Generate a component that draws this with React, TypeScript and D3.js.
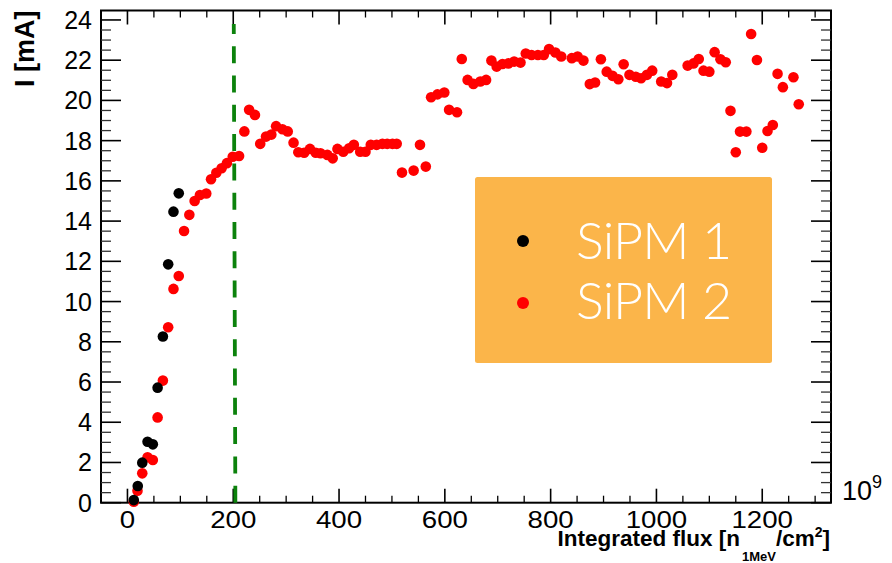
import React from "react";
import * as d3 from "d3";

// ---- data ----
const sipm1Flux = [12, 19.5, 28, 38, 48, 57, 67, 77, 87, 97];
const sipm1Current = [0.13, 0.83, 1.99, 3.03, 2.9, 5.72, 8.26, 11.85, 14.47, 15.38];

const sipm2Flux = [
  12, 19, 28, 38, 48, 57, 67, 77, 87, 97, 107, 117, 127, 137, 149, 158, 168, 178, 188, 199,
  211, 221, 230, 241, 251, 262, 272, 281, 293, 303, 314, 323, 334, 345, 356, 365, 378, 388, 397, 408,
  419, 428, 440, 450, 460, 471, 482, 491, 501, 509, 519, 541, 553, 564, 574, 586, 599, 608, 623, 632,
  643, 654, 667, 678, 688, 698, 709, 720, 731, 743, 753, 764, 776, 787, 797, 809, 820, 840, 851, 862,
  874, 884, 895, 906, 917, 928, 938, 949, 961, 971, 982, 992, 1009, 1020, 1030, 1059, 1070, 1080, 1089, 1100,
  1110, 1121, 1131, 1140, 1150, 1158, 1170, 1179, 1190, 1200, 1210, 1220, 1229, 1239, 1259, 1269,
];
const sipm2Current = [
  0.05, 0.6, 1.46, 2.26, 2.12, 4.24, 6.07, 8.72, 10.63, 11.27, 13.51, 14.31, 15.0, 15.3, 15.37, 16.08, 16.4, 16.63, 16.88, 17.2,
  17.24, 18.46, 19.53, 19.28, 17.84, 18.2, 18.3, 18.72, 18.57, 18.46, 17.9, 17.42, 17.4, 17.59, 17.4, 17.37, 17.29, 17.12, 17.59, 17.45,
  17.62, 17.79, 17.45, 17.45, 17.79, 17.79, 17.84, 17.84, 17.84, 17.84, 16.41, 16.51, 17.79, 16.71, 20.16, 20.3, 20.39, 19.53, 19.41, 22.06,
  21.02, 20.82, 20.94, 21.02, 21.98, 21.68, 21.81, 21.84, 21.93, 21.88, 22.33, 22.26, 22.26, 22.26, 22.55, 22.38, 22.18, 22.1, 22.18, 21.98,
  20.81, 20.89, 22.05, 21.43, 21.22, 21.05, 21.8, 21.27, 21.18, 21.1, 21.27, 21.48, 20.94, 20.86, 21.27, 21.73, 21.84, 22.06, 21.48, 21.43,
  22.4, 22.05, 21.9, 19.48, 17.42, 18.45, 18.45, 23.3, 22.01, 17.65, 18.48, 18.78, 21.32, 20.66, 21.15, 19.81,
];

const cutLineFlux = [204, 201];
const cutLineCurrent = [0, 23.8];

const xTickValues = [0, 200, 400, 600, 800, 1000, 1200];
const yTickValues = [0, 2, 4, 6, 8, 10, 12, 14, 16, 18, 20, 22, 24];
const legendLabels = ["SiPM 1", "SiPM 2"];
const seriesColors = ["#000000", "#ff0000"];

export default function App() {
  const W = 892;
  const H = 563;
  const L = 101, R = 831, T = 10.5, B = 502.7;

  const x = d3.scaleLinear().domain([-50, 1330]).range([L, R]);
  const y = d3.scaleLinear().domain([0, 24.47]).range([B, T]);

  const xMinor = d3.range(0, 1301, 50).filter((v) => v % 200 !== 0);
  const yMinor = d3.range(0, 24.01, 0.5).filter((v) => v % 2 !== 0);

  const r = 5.3;
  const tickFont = "'Liberation Sans', Arial, Helvetica, sans-serif";

  const cutPath = d3.line<number>()
    .x((_, i) => x(cutLineFlux[i]))
    .y((_, i) => y(cutLineCurrent[i]))(cutLineFlux.map((_, i) => i)) as string;

  return (
    <svg
      width={W}
      height={H}
      viewBox={`0 0 ${W} ${H}`}
      style={{ position: "absolute", left: 0, top: 0, display: "block", background: "#fff" }}
    >
      <rect x={0} y={0} width={W} height={H} fill="#fff" />

      {/* frame */}
      <rect x={L} y={T} width={R - L} height={B - T} fill="none" stroke="#000" strokeWidth={2} />

      {/* x ticks bottom & top */}
      {xTickValues.map((v) => (
        <g key={"xm" + v}>
          <line x1={x(v)} x2={x(v)} y1={B} y2={B - 14} stroke="#000" strokeWidth={1.6} />
          <line x1={x(v)} x2={x(v)} y1={T} y2={T + 14} stroke="#000" strokeWidth={1.6} />
        </g>
      ))}
      {xMinor.map((v) => (
        <g key={"xn" + v}>
          <line x1={x(v)} x2={x(v)} y1={B} y2={B - 7} stroke="#000" strokeWidth={1.3} />
          <line x1={x(v)} x2={x(v)} y1={T} y2={T + 7} stroke="#000" strokeWidth={1.3} />
        </g>
      ))}

      {/* y ticks left & right */}
      {yTickValues.map((v) => (
        <g key={"ym" + v}>
          <line x1={L} x2={L + 20} y1={y(v)} y2={y(v)} stroke="#000" strokeWidth={1.6} />
          <line x1={R} x2={R - 20} y1={y(v)} y2={y(v)} stroke="#000" strokeWidth={1.6} />
        </g>
      ))}
      {yMinor.map((v) => (
        <g key={"yn" + v}>
          <line x1={L} x2={L + 10} y1={y(v)} y2={y(v)} stroke="#333" strokeWidth={1.3} />
          <line x1={R} x2={R - 10} y1={y(v)} y2={y(v)} stroke="#333" strokeWidth={1.3} />
        </g>
      ))}

      {/* tick labels */}
      {yTickValues.map((v) => (
        <text key={"yl" + v} x={92} y={y(v) + 9} textAnchor="end" fontFamily={tickFont} fontSize={25} fill="#000">
          {v}
        </text>
      ))}
      {xTickValues.map((v) => (
        <text
          key={"xl" + v}
          transform={`translate(${x(v)},${527.5}) scale(1.13,1)`}
          textAnchor="middle"
          fontFamily={tickFont}
          fontSize={24.5}
          fill="#000"
        >
          {v}
        </text>
      ))}

      {/* exponent */}
      <text x={842} y={500} fontFamily={tickFont} fontSize={27} fill="#000">
        10
        <tspan fontSize={18} dy={-12}>9</tspan>
      </text>

      {/* axis titles */}
      <text
        transform={`translate(33.5,${T}) rotate(-90)`}
        textAnchor="end"
        fontFamily={tickFont}
        fontWeight="bold"
        fontSize={27}
        fill="#000"
      >
        I [mA]
      </text>
      <text x={830} y={546} textAnchor="end" fontFamily={tickFont} fontWeight="bold" fontSize={22.5} fill="#000">
        Integrated flux [n
        <tspan fontSize={13} dx={2} dy={15}>1MeV</tspan>
        <tspan fontSize={22.5} dy={-15}>/cm</tspan>
        <tspan fontSize={14} dy={-9}>2</tspan>
        <tspan fontSize={22.5} dy={9}>]</tspan>
      </text>

      {/* cut line */}
      <path d={cutPath} fill="none" stroke="#0c820c" strokeWidth={3.8} strokeDasharray="17 12.3" />

      {/* data */}
      {sipm2Flux.map((v, i) => (
        <circle key={"s2" + i} cx={x(v)} cy={y(sipm2Current[i])} r={r} fill={seriesColors[1]} />
      ))}
      {sipm1Flux.map((v, i) => (
        <circle key={"s1" + i} cx={x(v)} cy={y(sipm1Current[i])} r={r} fill={seriesColors[0]} />
      ))}

      {/* legend */}
      <rect x={475} y={177} width={297} height={186} rx={2.5} fill="#fbb54a" />
      {legendLabels.map((lab, i) => (
        <g key={lab}>
          <circle cx={523} cy={241 + i * 62} r={6} fill={seriesColors[i]} />
          <text
            x={576}
            y={259 + i * 60}
            fontFamily="Lato, 'Open Sans', sans-serif"
            fontWeight={300}
            fontSize={52}
            letterSpacing={-0.8}
            fill="#fff"
          >
            {lab}
          </text>
        </g>
      ))}
    </svg>
  );
}
